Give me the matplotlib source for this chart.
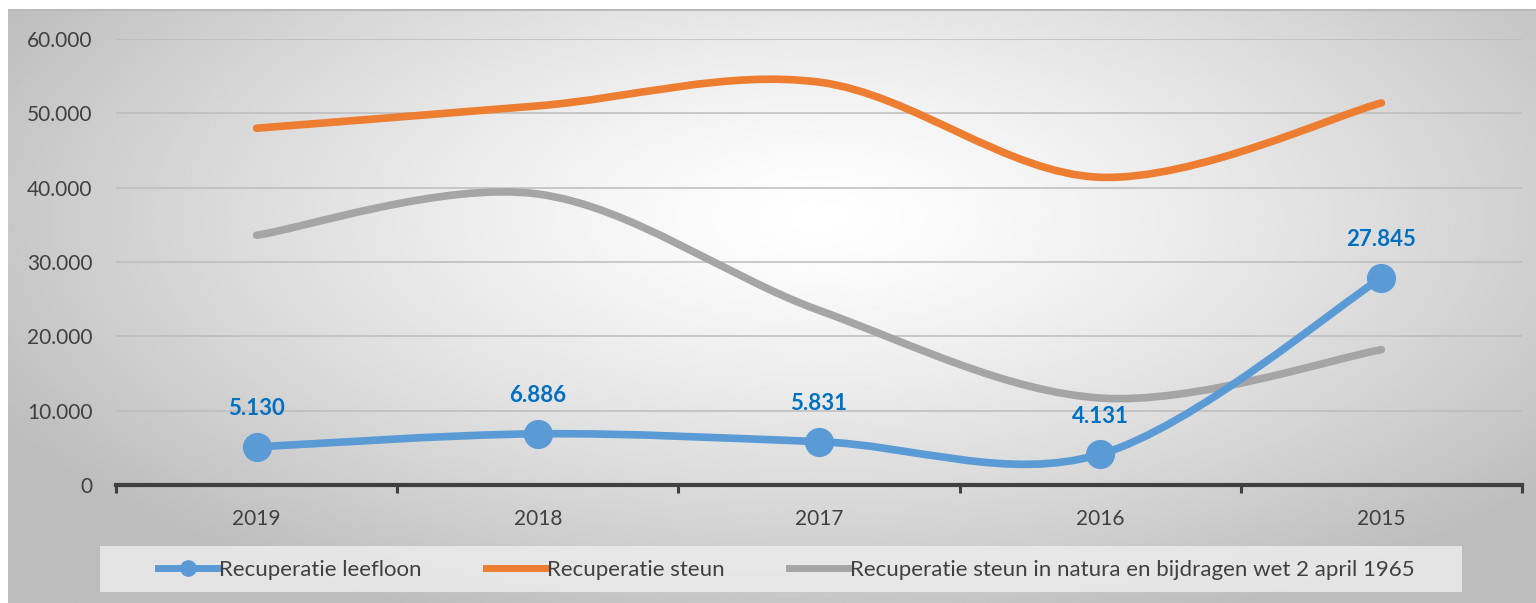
import numpy as np
import matplotlib
matplotlib.use("Agg")
import matplotlib.pyplot as plt
from matplotlib.path import Path
from matplotlib.patches import PathPatch, Rectangle
from matplotlib.lines import Line2D

years = ["2019", "2018", "2017", "2016", "2015"]
leefloon = [5130, 6886, 5831, 4131, 27845]
steun = [48000, 51000, 54200, 41400, 51400]
natura = [33600, 39150, 23500, 11700, 18200]
labels = ["Recuperatie leefloon", "Recuperatie steun",
          "Recuperatie steun in natura en bijdragen wet 2 april 1965"]
yticks = [0, 10000, 20000, 30000, 40000, 50000, 60000]
ytick_labels = ["0", "10.000", "20.000", "30.000", "40.000", "50.000", "60.000"]

c_blue, c_orange, c_gray = "#5B9BD5", "#ED7D31", "#A5A5A5"

plt.rcParams["font.family"] = ["Lato", "DejaVu Sans"]


def smooth_path(xs, ys):
    # excel-like smoothed line: cubic bezier with catmull-rom control points
    pts = np.column_stack([xs, ys]).astype(float)
    n = len(pts)
    verts = [pts[0]]
    codes = [Path.MOVETO]
    for i in range(n - 1):
        p0 = pts[i - 1] if i > 0 else pts[i]
        p1, p2 = pts[i], pts[i + 1]
        p3 = pts[i + 2] if i + 2 < n else pts[i + 1]
        verts += [p1 + (p2 - p0) / 6, p2 - (p3 - p1) / 6, p2]
        codes += [Path.CURVE4] * 3
    return Path(verts, codes)


fig = plt.figure(figsize=(15.36, 6.03), dpi=100)

# radial gradient background
bg = fig.add_axes([8 / 1536, 0, 1 - 8 / 1536, 1 - 9 / 603], zorder=-10)
gx, gy = np.meshgrid(np.linspace(0, 1, 400), np.linspace(0, 1, 200))
r = np.sqrt(((gx - 0.53) / 0.75) ** 2 + ((gy - 0.35) / 0.9) ** 2)
shade = np.clip(1 - 0.34 * r ** 1.3, 0.74, 1)
bg.imshow(shade, cmap="gray", vmin=0, vmax=1, aspect="auto", extent=[0, 1, 1, 0])
bg.axhline(0.0, color="#b8b8b8", lw=2)
bg.set_axis_off()

ax = fig.add_axes([116 / 1536, 1 - 485 / 603, (1522 - 116) / 1536, (485 - 39) / 603])
ax.patch.set_alpha(0)
x = np.arange(len(years))

for vals, col in [(steun, c_orange), (natura, c_gray), (leefloon, c_blue)]:
    ax.add_patch(PathPatch(smooth_path(x, vals), facecolor="none", edgecolor=col,
                           lw=5.5, capstyle="round", joinstyle="round", zorder=3))

ax.plot(x, leefloon, "o", color=c_blue, ms=20, zorder=4)
for xi, v in zip(x, leefloon):
    ax.annotate(f"{v:,}".replace(",", "."), (xi, v), xytext=(0, 20),
                textcoords="offset points", ha="center", va="bottom",
                color="#0070C0", fontsize=16, fontweight="bold")

ax.set_xlim(-0.5, len(years) - 0.5)
ax.set_ylim(0, 60000)
ax.set_yticks(yticks)
ax.set_yticklabels(ytick_labels)
ax.grid(axis="y", color="#bcbcbc", lw=1.1)
ax.set_axisbelow(True)
ax.set_xticks(x)
ax.set_xticklabels(years)
ax.set_xticks(np.arange(-0.5, len(years)), minor=True)
ax.tick_params(axis="x", which="major", length=0, pad=17, labelsize=15, labelcolor="#404040")
ax.tick_params(axis="x", which="minor", length=6, width=2.2, color="#404040", direction="out")
ax.tick_params(axis="y", length=0, pad=17, labelsize=15, labelcolor="#404040")
for s in ["top", "right", "left"]:
    ax.spines[s].set_visible(False)
ax.spines["bottom"].set_color("#404040")
ax.spines["bottom"].set_linewidth(3)

# legend
fig.patches.append(Rectangle((100 / 1536, 1 - 592 / 603), 1362 / 1536, 46 / 603,
                             transform=fig.transFigure, facecolor="#ececec",
                             edgecolor="none", alpha=0.85, zorder=-5))
handles = [Line2D([], [], color=c_blue, lw=5, marker="o", ms=11),
           Line2D([], [], color=c_orange, lw=5),
           Line2D([], [], color=c_gray, lw=5)]
leg = fig.legend(handles, labels, loc="center", bbox_to_anchor=(0.512, 1 - 570 / 603),
                 ncol=3, frameon=False, fontsize=16, handlelength=2.7,
                 handletextpad=0.05, columnspacing=2.9, labelcolor="#404040")

fig.savefig("out.png", dpi=100)
